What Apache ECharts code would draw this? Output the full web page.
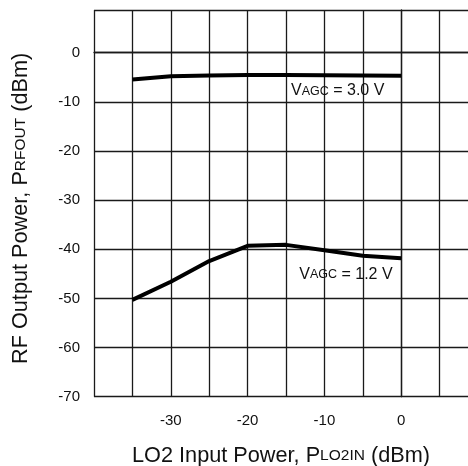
<!DOCTYPE html>
<html>
<head>
<meta charset="utf-8">
<script src="https://cdn.jsdelivr.net/npm/echarts@6/dist/echarts.min.js"></script>
<style>
html,body{margin:0;padding:0;background:#fff;}
#chart{width:468px;height:466px;}
</style>
</head>
<body>
<div id="chart"></div>
<script>
// Data
var loPower = [-35, -30, -25, -20, -15, -10, -5, 0];
var vagc30 = [-5.45, -4.8, -4.65, -4.55, -4.55, -4.6, -4.65, -4.7];
var vagc12 = [-50.3, -46.6, -42.4, -39.3, -39.1, -40.2, -41.3, -41.8];
var xTickLabels = [-30, -20, -10, 0];
var yTickLabels = [0, -10, -20, -30, -40, -50, -60, -70];
var label30 = { x: -14.35, y: -7.8 };
var label12 = { x: -13.27, y: -45.2 };

function pairs(xs, ys) { return xs.map(function (x, i) { return [x, ys[i]]; }); }

var FONT = '"Liberation Sans", Arial, sans-serif';
var gridLine = { show: true, lineStyle: { color: '#1a1a1a', width: 1.3 } };
var richAnno = {
  v: { fontSize: 16, fontFamily: FONT, color: '#111' },
  s: { fontSize: 12.5, fontFamily: FONT, color: '#111' }
};
var richTitle = {
  m: { fontSize: 21.7, fontFamily: FONT, color: '#111' },
  s: { fontSize: 15.5, fontFamily: FONT, color: '#111' }
};

var chart = echarts.init(document.getElementById('chart'), null, { renderer: 'canvas' });
chart.setOption({
  animation: false,
  backgroundColor: '#fff',
  grid: { left: 94, top: 10, width: 384, height: 386.7, containLabel: false, outerBoundsMode: 'none' },
  xAxis: {
    type: 'value', min: -40, max: 10, interval: 5,
    axisLine: { show: true, lineStyle: { color: '#1a1a1a', width: 1.3 } },
    axisTick: { show: false },
    splitLine: gridLine,
    axisLabel: {
      margin: 17, fontSize: 15, fontFamily: FONT, color: '#111',
      formatter: function (v) { return xTickLabels.indexOf(v) >= 0 ? String(v) : ''; }
    },
    name: '{m|LO2 Input Power, P}{s|LO2IN}{m| (dBm)}',
    nameLocation: 'middle', nameGap: 48,
    nameTextStyle: { padding: [0, 10, 0, 0], rich: richTitle }
  },
  yAxis: {
    type: 'value', min: -70, max: 8.7, interval: 10,
    axisLine: { show: true, lineStyle: { color: '#1a1a1a', width: 1.3 } },
    axisTick: { show: false },
    splitLine: gridLine,
    axisLabel: {
      margin: 14, fontSize: 15, fontFamily: FONT, color: '#111',
      formatter: function (v) { return yTickLabels.indexOf(v) >= 0 ? String(v) : ''; }
    },
    name: '{m|RF Output Power, P}{s|RFOUT}{m| (dBm)}',
    nameLocation: 'middle', nameGap: 62,
    nameTextStyle: { padding: [0, 10, 0, 0], rich: richTitle }
  },
  series: [
    {
      type: 'line', data: pairs(loPower, vagc30), showSymbol: false, symbol: 'none',
      lineStyle: { color: '#000', width: 4 },
      markPoint: {
        symbol: 'circle', symbolSize: 0,
        label: { show: true, position: 'right', distance: 0, formatter: '{v|V}{s|AGC}{v| = 3.0 V}', rich: richAnno },
        data: [{ coord: [label30.x, label30.y], value: 0 }]
      }
    },
    {
      type: 'line', data: pairs(loPower, vagc12), showSymbol: false, symbol: 'none',
      lineStyle: { color: '#000', width: 4 },
      markPoint: {
        symbol: 'circle', symbolSize: 0,
        label: { show: true, position: 'right', distance: 0, formatter: '{v|V}{s|AGC}{v| = 1.2 V}', rich: richAnno },
        data: [{ coord: [label12.x, label12.y], value: 0 }]
      }
    }
  ]
});
</script>
</body>
</html>
